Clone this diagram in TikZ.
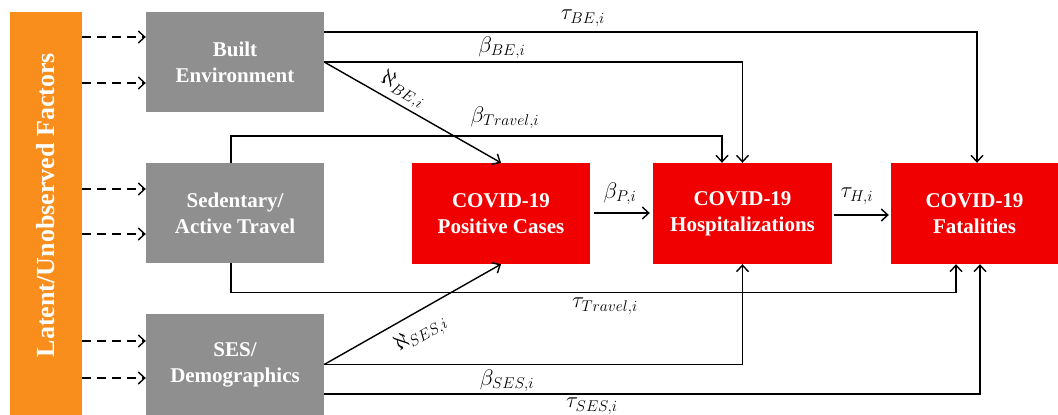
\documentclass[tikz,border=0pt]{standalone}
\usepackage{fontspec}
\setmainfont{Liberation Serif}
\usetikzlibrary{arrows.meta}
\definecolor{latentorange}{HTML}{F98E1D}
\definecolor{factorgray}{HTML}{8F8F8F}
\definecolor{outcomered}{HTML}{F00000}
% coefficient symbol, enlarged past the largest math font size
\newcommand\coefsym[1]{\scalebox{1.3}{$#1$}}
\tikzset{
  box/.style={rectangle, inner sep=0pt, text=white, align=center,
    font=\bfseries\fontsize{21}{26}\selectfont},
  factor/.style={box, fill=factorgray, minimum width=178pt, minimum height=100pt},
  outcome/.style={box, fill=outcomered, minimum height=101pt},
  link/.style={line width=1.4pt, -{Straight Barb[length=6.5pt,width=12pt,line width=1.4pt]}},
  latent/.style={link, dash pattern=on 9pt off 6pt},
  coef/.style={inner sep=0pt, font=\fontsize{17.28}{20}\selectfont}
}
\begin{document}
\begin{tikzpicture}[x=1pt, y=-1pt]
\useasboundingbox (0,0) rectangle (1058,415);

% latent factor bar
\node[box, fill=latentorange, minimum width=72pt, minimum height=403pt] (lat) at (46,213.5) {};
\node[box, rotate=90, font=\bfseries\fontsize{26}{30}\selectfont] (lattext) at (46,205) {Latent/Unobserved Factors};

% observed factor groups
\node[factor] (built) at (235,62) {Built\\Environment};
\node[factor] (sed) at (235,213) {Sedentary/\\Active Travel};
\node[factor, minimum height=101pt] (ses) at (235,364.5) {SES/\\Demographics};

% COVID-19 outcomes
\node[outcome, minimum width=178pt] (pos) at (501,213.5) {COVID-19\\Positive Cases};
\node[outcome, minimum width=179pt] (hosp) at (742.5,213.5) {COVID-19\\Hospitalizations};
\node[outcome, minimum width=167pt] (fat) at (974.5,213.5) {COVID-19\\Fatalities};

% latent effects on each factor
\draw[latent] ([yshift=25pt]lat.east |- built.east) -- ([yshift=25pt]built.west);
\draw[latent] ([yshift=-21pt]lat.east |- built.east) -- ([yshift=-21pt]built.west);
\draw[latent] ([yshift=24pt]lat.east |- sed.east) -- ([yshift=24pt]sed.west);
\draw[latent] ([yshift=-21pt]lat.east |- sed.east) -- ([yshift=-21pt]sed.west);
\draw[latent] ([yshift=23.5pt]lat.east |- ses.east) -- ([yshift=23.5pt]ses.west);
\draw[latent] ([yshift=-13.5pt]lat.east |- ses.east) -- ([yshift=-13.5pt]ses.west);

% built environment paths
\draw[link] ([yshift=30pt]built.east) -| ([xshift=2.5pt]fat.north);
\draw[link] (built.east) -| (hosp.north);
\draw[link] (built.east) -- (pos.north);

% travel paths
\draw[link] ([xshift=-4pt]sed.north) -- ++(0,-27) -| ([xshift=-20.5pt]hosp.north);
\draw[link] ([xshift=-4pt]sed.south) -- ++(0,29) -| ([xshift=-18.5pt]fat.south);

% SES paths
\draw[link] (ses.east) -- (pos.south);
\draw[link] (ses.east) -| (hosp.south);
\draw[link] ([yshift=-29.5pt]ses.east) -| ([xshift=5.5pt]fat.south);

% outcome chain
\draw[link, shorten <=4pt, shorten >=3pt] ([yshift=0.5pt]pos.east) -- ([yshift=0.5pt]hosp.west);
\draw[link, shorten <=2pt, shorten >=2pt] ([yshift=-1.5pt]hosp.east) -- ([yshift=-1.5pt]fat.west);

% coefficient labels
\node[coef] (tbe) at (583,18) {\coefsym{\tau_{BE,i}}};
\node[coef] (bbe) at (502,48) {\coefsym{\beta_{BE,i}}};
\node[coef, rotate=-30] (abe) at (403,90) {\coefsym{\aleph_{BE,i}}};
\node[coef] (btr) at (505,118) {\coefsym{\beta_{Travel,i}}};
\node[coef] (ttr) at (605,306) {\coefsym{\tau_{Travel,i}}};
\node[coef, rotate=30] (ases) at (421,334) {\coefsym{\aleph_{SES,i}}};
\node[coef] (bses) at (507,381) {\coefsym{\beta_{SES,i}}};
\node[coef] (tses) at (592,406) {\coefsym{\tau_{SES,i}}};
\node[coef] (bp) at (620,194) {\coefsym{\beta_{P,i}}};
\node[coef] (th) at (857,196) {\coefsym{\tau_{H,i}}};
\end{tikzpicture}
\end{document}
